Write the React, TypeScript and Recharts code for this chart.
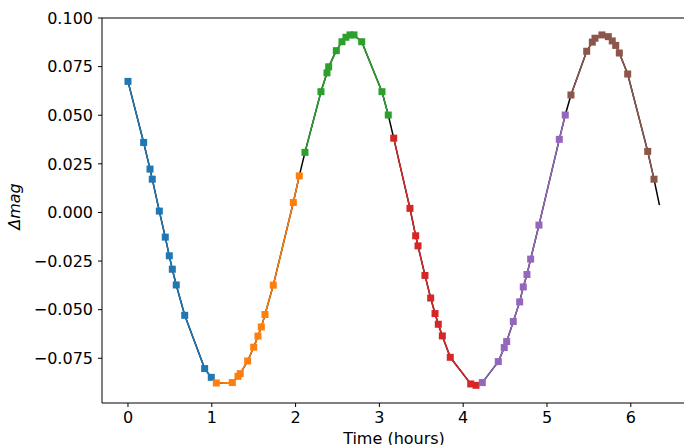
import { LineChart, Line, XAxis, YAxis, ReferenceLine } from 'recharts';

// light curve, time in hours, magnitude offset
const blueSegment = [
  { t: 0.0, m: 0.0674 }, { t: 0.187, m: 0.036 }, { t: 0.263, m: 0.0223 },
  { t: 0.29, m: 0.0171 }, { t: 0.374, m: 0.0007 }, { t: 0.445, m: -0.0127 },
  { t: 0.493, m: -0.0223 }, { t: 0.529, m: -0.0292 }, { t: 0.576, m: -0.0373 },
  { t: 0.677, m: -0.0529 }, { t: 0.915, m: -0.0803 }, { t: 0.994, m: -0.0848 },
];

const orangeSegment = [
  { t: 1.054, m: -0.0877 }, { t: 1.245, m: -0.0875 }, { t: 1.313, m: -0.0843 },
  { t: 1.34, m: -0.0829 }, { t: 1.428, m: -0.0764 }, { t: 1.5, m: -0.0693 },
  { t: 1.551, m: -0.0636 }, { t: 1.591, m: -0.0589 }, { t: 1.635, m: -0.0525 },
  { t: 1.734, m: -0.0374 }, { t: 1.973, m: 0.0051 }, { t: 2.044, m: 0.0188 },
];

const greenSegment = [
  { t: 2.112, m: 0.0309 }, { t: 2.303, m: 0.0621 }, { t: 2.375, m: 0.0718 },
  { t: 2.395, m: 0.0749 }, { t: 2.486, m: 0.0832 }, { t: 2.554, m: 0.0878 },
  { t: 2.601, m: 0.0901 }, { t: 2.649, m: 0.0913 }, { t: 2.697, m: 0.0913 },
  { t: 2.789, m: 0.0878 }, { t: 3.031, m: 0.0621 }, { t: 3.106, m: 0.0501 },
];

const redSegment = [
  { t: 3.171, m: 0.0382 }, { t: 3.365, m: 0.0021 }, { t: 3.433, m: -0.012 },
  { t: 3.461, m: -0.0172 }, { t: 3.544, m: -0.0324 }, { t: 3.612, m: -0.044 },
  { t: 3.664, m: -0.052 }, { t: 3.703, m: -0.0575 }, { t: 3.751, m: -0.0635 },
  { t: 3.846, m: -0.0745 }, { t: 4.09, m: -0.0882 }, { t: 4.153, m: -0.0889 },
];

const purpleSegment = [
  { t: 4.228, m: -0.0875 }, { t: 4.419, m: -0.0767 }, { t: 4.49, m: -0.0695 },
  { t: 4.519, m: -0.0664 }, { t: 4.598, m: -0.0561 }, { t: 4.674, m: -0.046 },
  { t: 4.717, m: -0.0383 }, { t: 4.761, m: -0.0319 }, { t: 4.805, m: -0.024 },
  { t: 4.904, m: -0.0065 }, { t: 5.147, m: 0.0376 }, { t: 5.218, m: 0.0501 },
];

const brownSegment = [
  { t: 5.286, m: 0.0604 }, { t: 5.474, m: 0.0829 }, { t: 5.541, m: 0.0876 },
  { t: 5.573, m: 0.0896 }, { t: 5.656, m: 0.0913 }, { t: 5.732, m: 0.0904 },
  { t: 5.779, m: 0.0882 }, { t: 5.82, m: 0.0859 }, { t: 5.863, m: 0.082 },
  { t: 5.963, m: 0.0712 }, { t: 6.202, m: 0.0314 }, { t: 6.277, m: 0.0171 },
];

// the black model line runs a little past the last sample
const modelTail = [{ t: 6.342, m: 0.0038 }];

const xTicks = [0, 1, 2, 3, 4, 5, 6];
const yTicks = [-0.075, -0.05, -0.025, 0, 0.025, 0.05, 0.075, 0.1];

const segments = [
  { name: 'seg1', color: '#1f77b4', data: blueSegment },
  { name: 'seg2', color: '#ff7f0e', data: orangeSegment },
  { name: 'seg3', color: '#2ca02c', data: greenSegment },
  { name: 'seg4', color: '#d62728', data: redSegment },
  { name: 'seg5', color: '#9467bd', data: purpleSegment },
  { name: 'seg6', color: '#8c564b', data: brownSegment },
];

const modelCurve = [...segments.flatMap((s) => s.data), ...modelTail];

const W = 684;
const H = 445;
const FONT = 'DejaVu Sans';
const tickStyle = { fontSize: 16, fill: '#000', fontFamily: FONT };

const formatMag = (v: number) =>
  v < 0 ? `\u2212${Math.abs(v).toFixed(3)}` : v.toFixed(3);

const squareDot = (color: string) => (props: any) => {
  const { cx, cy, index } = props;
  if (cx == null || cy == null) return <g key={index} />;
  return <rect key={index} x={cx - 3.5} y={cy - 3.5} width={7} height={7} fill={color} />;
};

const XLabel = (props: any) => {
  const { viewBox } = props;
  return (
    <text
      x={viewBox.x + viewBox.width / 2 + 1}
      y={viewBox.y + 40.5}
      textAnchor="middle"
      fontSize={16}
      fontFamily={FONT}
      fill="#000"
    >
      Time (hours)
    </text>
  );
};

const YLabel = (props: any) => {
  const { viewBox } = props;
  const x = 19.5;
  const y = viewBox.y + viewBox.height / 2 - 4;
  return (
    <text
      x={x}
      y={y}
      transform={`rotate(-90 ${x} ${y})`}
      textAnchor="middle"
      fontSize={16}
      fontStyle="italic"
      fontFamily={FONT}
      fill="#000"
    >
      Δmag
    </text>
  );
};

export default function App() {
  return (
    <div style={{ position: 'absolute', left: 0, top: 0, width: W, height: H }}>
      <LineChart
        width={W}
        height={H}
        margin={{ top: 18, right: 0, left: 0, bottom: 0 }}
        style={{ fontFamily: FONT }}
      >
        <XAxis
          type="number"
          dataKey="t"
          domain={[-0.31, 6.635]}
          allowDataOverflow
          ticks={xTicks}
          tick={tickStyle}
          tickSize={4}
          tickMargin={5}
          height={42}
          axisLine={{ stroke: '#000', strokeWidth: 1 }}
          tickLine={{ stroke: '#000', strokeWidth: 1 }}
          label={<XLabel />}
        />
        <YAxis
          type="number"
          dataKey="m"
          domain={[-0.098, 0.1]}
          allowDataOverflow
          ticks={yTicks}
          tickFormatter={formatMag}
          tick={tickStyle}
          tickSize={4}
          tickMargin={5}
          width={102}
          axisLine={{ stroke: '#000', strokeWidth: 1 }}
          tickLine={{ stroke: '#000', strokeWidth: 1 }}
          label={<YLabel />}
        />
        <ReferenceLine y={0.1} stroke="#000" strokeWidth={1} ifOverflow="visible" />
        <Line
          data={modelCurve}
          dataKey="m"
          type="linear"
          stroke="#000"
          strokeWidth={1.5}
          dot={false}
          activeDot={false}
          isAnimationActive={false}
        />
        {segments.map((s) => (
          <Line
            key={s.name}
            data={s.data}
            dataKey="m"
            name={s.name}
            type="linear"
            stroke={s.color}
            strokeWidth={1.5}
            dot={squareDot(s.color)}
            activeDot={false}
            isAnimationActive={false}
          />
        ))}
      </LineChart>
    </div>
  );
}
